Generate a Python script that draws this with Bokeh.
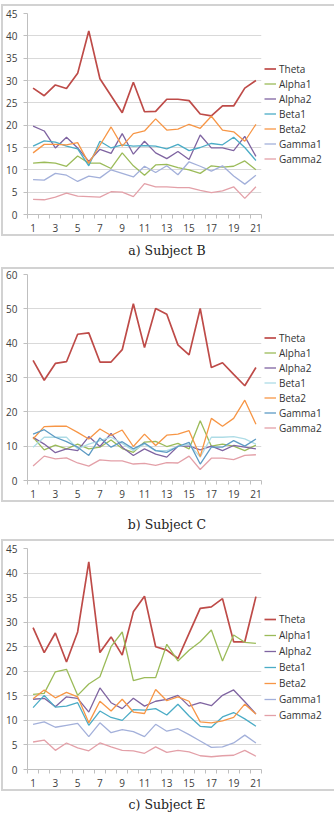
from bokeh.plotting import figure
from bokeh.models import Range1d, FixedTicker, Legend, LegendItem, Div
from bokeh.layouts import column
from bokeh.embed import file_html
from bokeh.resources import INLINE

sessions = list(range(1, 22))
bands = ["Theta", "Alpha1", "Alpha2", "Beta1", "Beta2", "Gamma1", "Gamma2"]

# Subject B
b_theta = [28.3, 26.6, 29.0, 28.2, 31.6, 41.1, 30.4, 26.6, 22.8, 29.6, 23.0,
           23.1, 25.8, 25.8, 25.5, 22.5, 22.1, 24.3, 24.3, 28.3, 30.0]
b_alpha1 = [11.5, 11.7, 11.5, 10.8, 13.1, 11.5, 11.5, 10.3, 13.8, 10.9, 8.8,
            11.1, 11.2, 10.5, 10.0, 9.2, 10.9, 10.6, 10.8, 12.0, 10.0]
b_alpha2 = [19.8, 18.7, 14.9, 17.3, 14.9, 11.9, 14.6, 13.7, 18.1, 13.5, 16.4,
            13.8, 12.5, 14.1, 12.3, 17.8, 14.9, 14.9, 14.3, 17.5, 13.0]
b_beta1 = [15.3, 16.5, 16.2, 15.3, 14.7, 10.9, 16.4, 14.9, 15.6, 15.3, 15.4,
           15.3, 14.7, 15.7, 14.3, 15.0, 15.9, 15.6, 17.3, 15.0, 12.1]
b_beta2 = [13.8, 15.7, 15.7, 15.6, 16.1, 11.5, 15.5, 19.6, 15.3, 18.1, 18.7,
           21.4, 18.9, 19.1, 20.2, 19.3, 22.0, 18.9, 18.5, 16.4, 20.2]
b_gamma1 = [7.8, 7.7, 9.2, 8.8, 7.4, 8.6, 8.2, 10.0, 9.2, 8.4, 10.8,
            9.4, 10.9, 8.9, 11.8, 10.8, 9.7, 10.9, 8.6, 6.8, 8.8]
b_gamma2 = [3.4, 3.3, 3.9, 4.8, 4.1, 4.0, 3.9, 5.1, 5.0, 4.0, 6.9,
            6.2, 6.2, 6.0, 6.0, 5.4, 4.9, 5.3, 6.2, 3.6, 6.2]

# Subject C
c_theta = [35.0, 29.2, 34.1, 34.6, 42.6, 43.0, 34.5, 34.5, 38.1, 51.5, 38.7,
           50.1, 48.4, 39.5, 36.6, 50.1, 32.9, 34.3, 30.9, 27.6, 32.9]
c_alpha1 = [12.6, 8.9, 10.3, 9.2, 10.6, 9.2, 9.7, 11.8, 9.3, 8.2, 11.2,
            11.4, 9.9, 10.8, 9.2, 17.4, 10.0, 10.6, 10.0, 8.7, 10.3]
c_alpha2 = [12.6, 10.6, 8.1, 9.2, 8.7, 12.8, 9.9, 13.7, 9.7, 7.3, 9.2,
            7.7, 6.8, 10.0, 10.0, 8.9, 10.0, 8.7, 10.2, 9.7, 9.2]
c_beta1 = [9.7, 12.6, 12.6, 12.6, 9.2, 10.6, 11.6, 12.6, 10.8, 8.7, 10.6,
           8.7, 8.7, 9.9, 10.6, 6.8, 12.6, 12.6, 12.8, 12.1, 10.6]
c_beta2 = [12.1, 15.7, 15.8, 15.8, 14.0, 12.1, 15.0, 13.1, 14.7, 9.9, 13.5,
           10.2, 13.2, 13.5, 14.5, 7.0, 18.1, 15.8, 18.1, 23.4, 16.4]
c_gamma1 = [13.5, 14.8, 12.6, 11.3, 9.7, 7.3, 12.4, 9.7, 11.3, 9.2, 10.9,
            8.7, 8.2, 9.9, 11.1, 4.8, 9.7, 9.7, 11.6, 10.0, 12.1]
c_gamma2 = [4.2, 7.1, 6.3, 6.6, 5.1, 4.2, 6.0, 5.7, 5.7, 4.8, 5.0,
            4.4, 5.2, 5.1, 7.1, 3.2, 6.5, 6.5, 6.1, 7.3, 7.5]

# Subject E
e_theta = [28.9, 23.8, 27.8, 21.9, 28.0, 42.3, 23.8, 27.0, 23.3, 32.1, 35.3,
           25.0, 24.3, 22.6, 27.7, 32.8, 33.1, 34.8, 26.0, 26.0, 35.2]
e_alpha1 = [15.3, 15.5, 19.9, 20.4, 15.1, 17.4, 18.9, 25.0, 28.0, 18.1, 18.7,
            18.7, 25.5, 22.1, 24.3, 26.0, 28.4, 22.1, 27.4, 25.9, 25.7]
e_alpha2 = [14.3, 14.5, 12.8, 14.8, 14.5, 11.7, 16.6, 13.6, 12.4, 14.5, 12.9,
            13.9, 14.3, 15.1, 12.9, 13.6, 13.0, 15.1, 16.2, 13.8, 11.3]
e_beta1 = [12.6, 15.1, 12.7, 12.9, 13.6, 9.0, 11.9, 10.6, 10.0, 12.2, 12.1,
           12.4, 11.1, 13.3, 10.9, 8.8, 8.6, 10.7, 11.6, 10.3, 8.8]
e_beta2 = [14.4, 16.2, 14.6, 15.7, 14.8, 9.5, 13.9, 11.9, 14.3, 11.7, 11.4,
           16.3, 14.0, 14.8, 13.9, 9.7, 9.5, 9.9, 10.6, 13.3, 11.3]
e_gamma1 = [9.2, 9.7, 8.6, 9.0, 9.4, 6.7, 9.5, 7.5, 8.1, 7.7, 6.7,
            9.2, 7.8, 8.3, 7.1, 5.8, 4.5, 4.6, 5.4, 7.0, 5.4]
e_gamma2 = [5.6, 6.0, 3.9, 5.4, 4.4, 3.8, 5.4, 4.6, 3.9, 3.8, 3.3,
            4.6, 3.5, 3.9, 3.6, 2.8, 2.6, 2.8, 2.9, 3.9, 2.7]

x_tick_labels = [1, 3, 5, 7, 9, 11, 13, 15, 17, 19, 21]

palette = ["#BE4B48", "#9BBB59", "#7F64A1", "#4BACC6", "#F79646",
           "#A3B0DA", "#E3A0A8"]
palette_c = ["#BE4B48", "#9BBB59", "#7F64A1", "#AEDCE6", "#F79646",
             "#5E9BC4", "#E3A0A8"]

AXIS_FONT = "Open Sans"


def panel(series, colors, ymax, ystep, top, frame_h, leg_y, row_h, margin):
    p = figure(frame_width=234, frame_height=frame_h,
               x_range=Range1d(0.5, 21.5), y_range=Range1d(0, ymax),
               output_backend="svg", toolbar_location=None,
               min_border_left=22, min_border_right=68,
               min_border_top=top, min_border_bottom=20,
               margin=margin,
               styles={"outline": "2px solid #D2D2D2"})
    p.outline_line_color = None
    p.background_fill_color = "white"
    p.border_fill_color = "white"

    # category-style x axis: labels on odd sessions, ticks between sessions
    p.xaxis.ticker = FixedTicker(ticks=x_tick_labels,
                                 minor_ticks=[i + 0.5 for i in range(0, 22)])
    p.xaxis.major_tick_in = 0
    p.xaxis.major_tick_out = 0
    p.xaxis.minor_tick_in = 0
    p.xaxis.minor_tick_out = 4
    p.xaxis.minor_tick_line_color = "#BFBFBF"
    p.xaxis.major_label_standoff = 5
    p.xgrid.grid_line_color = None

    p.yaxis.ticker = FixedTicker(ticks=list(range(0, ymax + 1, ystep)))
    p.yaxis.major_tick_in = 0
    p.yaxis.major_tick_out = 4
    p.yaxis.major_tick_line_color = "#BFBFBF"
    p.yaxis.minor_tick_line_color = None
    p.yaxis.major_label_standoff = 6
    p.ygrid.grid_line_color = "#D9D9D9"

    for ax in (p.xaxis, p.yaxis):
        ax.axis_line_color = "#BFBFBF"
        ax.major_label_text_font = AXIS_FONT
        ax.major_label_text_font_size = "10px"
        ax.major_label_text_color = "#404040"

    items = []
    for name, vals, col in zip(bands, series, colors):
        r = p.line(sessions, vals, line_color=col,
                   line_width=1.7 if name == "Theta" else 1.3)
        items.append(LegendItem(label=name, renderers=[r]))

    leg = Legend(items=items, location=(3, leg_y), padding=0, margin=0,
                 spacing=0, glyph_width=12, glyph_height=row_h,
                 label_height=row_h, label_standoff=3,
                 label_text_font=AXIS_FONT, label_text_font_size="10px",
                 label_text_color="#333333", border_line_color=None,
                 background_fill_alpha=0)
    p.add_layout(leg, "right")
    return p


def caption(text, h, pad):
    html = ('<div style="width:322px;text-align:center;'
            'font-family:\'DejaVu Serif\';font-size:12.5px;line-height:15px;'
            'color:#222222;padding-top:%dpx;padding-left:12px;">%s</div>'
            % (pad, text))
    return Div(text=html, width=334, height=h, margin=(0, 0, 0, 0))


p1 = panel([b_theta, b_alpha1, b_alpha2, b_beta1, b_beta2, b_gamma1, b_gamma2],
           palette, 45, 5, 7, 201, 48, 15, (6, 0, 0, 3))
p2 = panel([c_theta, c_alpha1, c_alpha2, c_beta1, c_beta2, c_gamma1, c_gamma2],
           palette_c, 60, 10, 5, 206, 45, 15, (0, 0, 0, 3))
p3 = panel([e_theta, e_alpha1, e_alpha2, e_beta1, e_beta2, e_gamma1, e_gamma2],
           palette, 45, 5, 7, 221, 46, 16, (0, 0, 0, 3))

layout = column(p1, caption("a) Subject B", 35, 9),
                p2, caption("b) Subject C", 41, 17),
                p3, caption("c) Subject E", 25, 8),
                spacing=0)
open("out.html", "w").write(file_html(layout, INLINE))
